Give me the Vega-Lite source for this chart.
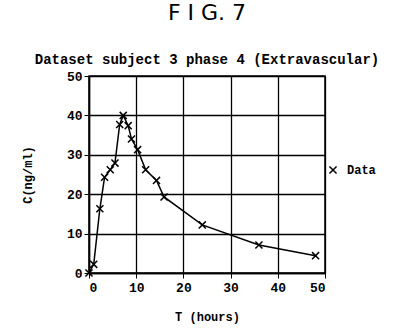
{
  "$schema": "https://vega.github.io/schema/vega-lite/v6.json",
  "autosize": "none",
  "padding": {"left": 89, "top": 76, "right": 69, "bottom": 61},
  "width": 236,
  "height": 197,
  "background": "white",
  "title": {
    "text": "F I G. 7",
    "subtitle": "Dataset subject 3 phase 4 (Extravascular)",
    "font": "DejaVu Sans",
    "fontSize": 22,
    "fontWeight": "normal",
    "color": "black",
    "anchor": "middle",
    "offset": 2,
    "subtitleFont": "Liberation Mono",
    "subtitleFontSize": 14,
    "subtitleFontWeight": "bold",
    "subtitleColor": "black",
    "subtitlePadding": 28
  },
  "config": {
    "view": {"stroke": "black", "strokeWidth": 1.5},
    "axis": {
      "labelFont": "Liberation Mono",
      "labelFontSize": 13,
      "labelFontWeight": "bold",
      "labelColor": "black",
      "titleFont": "Liberation Mono",
      "titleFontSize": 12,
      "titleFontWeight": "bold",
      "titleColor": "black",
      "gridColor": "black",
      "gridOpacity": 1,
      "gridWidth": 1.3,
      "domainColor": "black",
      "domainWidth": 1.5,
      "tickColor": "black",
      "tickSize": 5
    }
  },
  "data": {
    "values": [
      {"t": 0, "c": 0, "s": "Data"},
      {"t": 1, "c": 2.2, "s": "Data"},
      {"t": 2.3, "c": 16.3, "s": "Data"},
      {"t": 3.3, "c": 24.3, "s": "Data"},
      {"t": 4.5, "c": 26.2, "s": "Data"},
      {"t": 5.5, "c": 27.9, "s": "Data"},
      {"t": 6.5, "c": 37.7, "s": "Data"},
      {"t": 7.25, "c": 40, "s": "Data"},
      {"t": 8.3, "c": 37.4, "s": "Data"},
      {"t": 9, "c": 34, "s": "Data"},
      {"t": 10.3, "c": 31.3, "s": "Data"},
      {"t": 12, "c": 26.2, "s": "Data"},
      {"t": 14.3, "c": 23.5, "s": "Data"},
      {"t": 15.9, "c": 19.3, "s": "Data"},
      {"t": 24, "c": 12.2, "s": "Data"},
      {"t": 36, "c": 7.1, "s": "Data"},
      {"t": 48, "c": 4.4, "s": "Data"}
    ]
  },
  "encoding": {
    "x": {
      "field": "t", "type": "quantitative",
      "scale": {"domain": [0, 50], "nice": false},
      "axis": {"values": [0, 10, 20, 30, 40, 50], "title": "T (hours)", "titlePadding": 17, "labelPadding": 3}
    },
    "y": {
      "field": "c", "type": "quantitative",
      "scale": {"domain": [0, 50], "nice": false},
      "axis": {"values": [0, 10, 20, 30, 40, 50], "title": "C(ng/ml)", "titlePadding": 32, "labelPadding": 2}
    }
  },
  "layer": [
    {
      "mark": {"type": "line", "color": "black", "strokeWidth": 1.5}
    },
    {
      "mark": {"type": "point", "shape": "M-1,-1L1,1M-1,1L1,-1", "filled": false, "strokeWidth": 1.5, "size": 50, "opacity": 1},
      "encoding": {
        "color": {
          "field": "s", "type": "nominal",
          "scale": {"range": ["black"]},
          "legend": {
            "title": null,
            "orient": "none",
            "legendX": 238,
            "legendY": 88,
            "padding": 0,
            "labelFont": "Liberation Mono",
            "labelFontSize": 12,
            "labelFontWeight": "bold",
            "labelColor": "black",
            "symbolType": "M-1,-1L1,1M-1,1L1,-1",
            "symbolStrokeWidth": 1.5,
            "symbolSize": 50,
            "symbolStrokeColor": "black",
            "labelOffset": 8
          }
        }
      }
    }
  ]
}
